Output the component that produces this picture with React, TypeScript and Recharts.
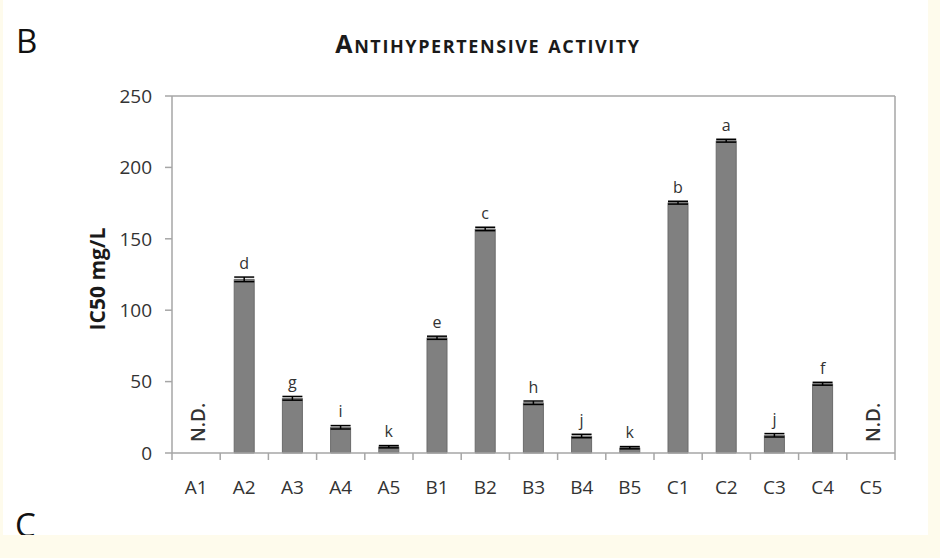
import { BarChart, Bar, XAxis, YAxis, ErrorBar, LabelList } from 'recharts';

const categories = ['A1', 'A2', 'A3', 'A4', 'A5', 'B1', 'B2', 'B3', 'B4', 'B5', 'C1', 'C2', 'C3', 'C4', 'C5'];
const ic50 = [0, 121.6, 38.3, 18.0, 4.4, 80.7, 156.9, 35.2, 11.9, 3.7, 175.3, 218.7, 12.4, 48.5, 0];
const sd = [0, 1.6, 1.3, 1.2, 0.8, 1.1, 1.2, 1.2, 1.2, 0.8, 1.0, 1.0, 1.2, 1.0, 0];
const letters = ['N.D.', 'd', 'g', 'i', 'k', 'e', 'c', 'h', 'j', 'k', 'b', 'a', 'j', 'f', 'N.D.'];
const yTicks = [0, 50, 100, 150, 200, 250];

const data = categories.map((name, i) => ({ name, value: ic50[i], err: sd[i], letter: letters[i] }));

const W = 940;
const H = 558;
const margin = { top: 95, right: 44, bottom: 104, left: 112 };
const Y_AXIS_W = 60;
const PLOT_W = W - margin.left - margin.right - Y_AXIS_W - 1;
const step = PLOT_W / categories.length;

const FONT = '"Open Sans", "DejaVu Sans", sans-serif';
const AXIS = '#a6a6a6';
const TEXT = '#333333';

function XTick(props: any) {
  const { x, y, payload, index } = props;
  const last = index === categories.length - 1;
  const nd = letters[index] === 'N.D.';
  return (
    <g>
      <line x1={x - step / 2} x2={x - step / 2} y1={y} y2={y + 7} stroke={AXIS} strokeWidth={1.5} />
      {last && <line x1={x + step / 2} x2={x + step / 2} y1={y} y2={y + 7} stroke={AXIS} strokeWidth={1.5} />}
      <text x={x} y={y + 41} textAnchor="middle" fill={TEXT} fontSize={19} fontFamily={FONT}>
        {payload.value}
      </text>
      {nd && (
        <text
          x={x + 4}
          y={y - 11}
          transform={`rotate(-90 ${x + 4} ${y - 11})`}
          fill={TEXT}
          fontSize={19}
          fontWeight={600}
          fontFamily={FONT}
          dominantBaseline="middle"
        >
          {letters[index]}
        </text>
      )}
    </g>
  );
}

function LetterLabel(props: any) {
  const { x, y, width, value } = props;
  if (value === 'N.D.') return null;
  return (
    <text x={x + width / 2} y={y - 10} textAnchor="middle" fill={TEXT} fontSize={16} fontFamily={FONT}>
      {value}
    </text>
  );
}

export default function App() {
  return (
    <div style={{ position: 'absolute', left: 0, top: 0, width: W, height: H, background: '#fefbec' }}>
      <div
        style={{
          position: 'absolute',
          left: 3,
          top: 0,
          width: 925,
          height: 535,
          background: '#ffffff',
          overflow: 'hidden',
        }}
      >
        <div style={{ position: 'absolute', left: 13, top: 18, fontSize: 33, fontFamily: FONT, color: '#111' }}>B</div>
        <div style={{ position: 'absolute', left: 12, top: 502, fontSize: 33, fontFamily: FONT, color: '#111' }}>C</div>
      </div>
      <div
        style={{
          position: 'absolute',
          left: 0,
          width: 976,
          top: 26,
          textAlign: 'center',
          fontFamily: FONT,
          fontWeight: 700,
          fontSize: 25,
          fontVariant: 'small-caps',
          color: '#1a1a1a',
          letterSpacing: 1.6,
        }}
      >
        Antihypertensive activity
      </div>
      <div
        style={{
          position: 'absolute',
          left: 97,
          top: 279,
          transform: 'translate(-50%, -50%) rotate(-90deg)',
          whiteSpace: 'nowrap',
          fontFamily: FONT,
          fontWeight: 700,
          fontSize: 21,
          color: '#1a1a1a',
        }}
      >
        IC50 mg/L
      </div>
      <div style={{ position: 'absolute', left: 0, top: 0 }}>
        <BarChart width={W} height={H} data={data} margin={margin} barSize={20}>
          <XAxis
            dataKey="name"
            height={1}
            tickSize={0}
            tickMargin={0}
            tickLine={false}
            axisLine={{ stroke: AXIS, strokeWidth: 1.5 }}
            tick={<XTick />}
            interval={0}
          />
          <XAxis
            xAxisId="top"
            dataKey="name"
            orientation="top"
            height={1}
            tick={false}
            tickLine={false}
            axisLine={{ stroke: AXIS, strokeWidth: 1.5 }}
          />
          <YAxis
            width={Y_AXIS_W}
            domain={[0, 250]}
            ticks={yTicks}
            tickSize={7}
            tickMargin={13}
            tickLine={{ stroke: AXIS, strokeWidth: 1.5 }}
            axisLine={{ stroke: AXIS, strokeWidth: 1.5 }}
            tick={{ fill: TEXT, fontSize: 19, fontFamily: FONT }}
          />
          <YAxis
            yAxisId="right"
            orientation="right"
            width={1}
            domain={[0, 250]}
            tick={false}
            tickLine={false}
            axisLine={{ stroke: AXIS, strokeWidth: 1.5 }}
          />
          <Bar dataKey="value" fill="#808080" stroke="#6b6b6b" strokeWidth={1} isAnimationActive={false}>
            <ErrorBar dataKey="err" width={10} stroke="#000" strokeWidth={1.5} />
            <LabelList dataKey="letter" content={<LetterLabel />} />
          </Bar>
        </BarChart>
      </div>
    </div>
  );
}
